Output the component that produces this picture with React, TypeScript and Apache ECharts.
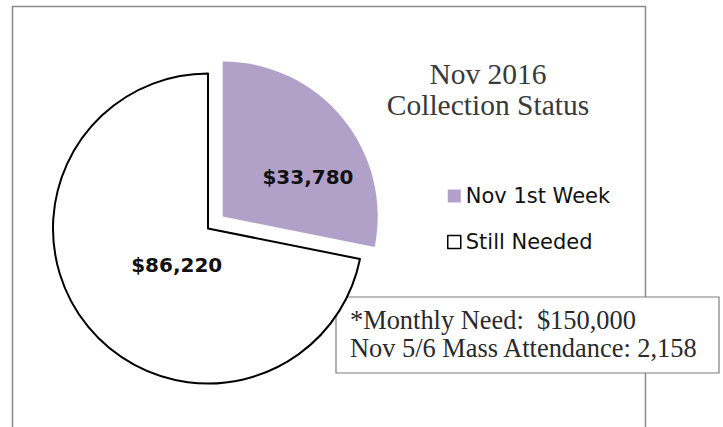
import React, { useEffect, useRef } from "react";
import * as echarts from "echarts";

const categories = ["Nov 1st Week", "Still Needed"];
const values = [33780, 86220];
const sliceColors = ["#b1a1c9", "#ffffff"];
const titleText = "Nov 2016\nCollection Status";
const noteLines = ["*Monthly Need:  $150,000", "Nov 5/6 Mass Attendance: 2,158"];

export default function App() {
  const ref = useRef<HTMLDivElement>(null);
  useEffect(() => {
    if (!ref.current) return;
    const chart = echarts.init(ref.current, undefined, { renderer: "svg" });
    const fmt = (v: number) => "$" + v.toLocaleString("en-US");
    const labelOffsets = [[23, 12], [31, -15]];
    const itemStyles = [
      { color: sliceColors[0], borderWidth: 0 },
      { color: sliceColors[1], borderColor: "#000", borderWidth: 2 },
    ];
    chart.setOption({
      animation: false,
      backgroundColor: "#ffffff",
      title: {
        text: titleText,
        left: 483,
        top: 53,
        textAlign: "center",
        textStyle: {
          fontFamily: "Liberation Serif",
          fontSize: 29.5,
          lineHeight: 31,
          fontWeight: "normal",
          color: "#3a3a3a",
        },
      },
      legend: {
        orient: "vertical",
        left: 442,
        top: 179,
        icon: "rect",
        itemWidth: 13,
        itemHeight: 13,
        itemGap: 22,
        selectedMode: false,
        textStyle: {
          fontFamily: "DejaVu Sans",
          fontSize: 21,
          lineHeight: 24,
          color: "#111",
        },
        data: [
          { name: categories[0], itemStyle: { color: sliceColors[0], borderWidth: 0 } },
          { name: categories[1], itemStyle: { color: "#fff", borderColor: "#000", borderWidth: 1.5 } },
        ],
      },
      graphic: [
        {
          type: "rect",
          z: -10,
          shape: { x: 12.5, y: 6.5, width: 633, height: 600 },
          style: { fill: "none", stroke: "#8a8a8a", lineWidth: 1.5 },
          silent: true,
        },
        {
          type: "group",
          z: 100,
          children: [
            {
              type: "rect",
              shape: { x: 336, y: 297, width: 383, height: 76 },
              style: { fill: "#fff", stroke: "#7f7f7f", lineWidth: 1.2 },
            },
            ...noteLines.map((t, i) => ({
              type: "text",
              x: 350,
              y: 320 + i * 27.5,
              style: {
                text: t,
                fontFamily: "Liberation Serif",
                fontSize: 26.4,
                fill: "#2a2a2a",
                textVerticalAlign: "middle",
              },
            })),
          ],
        },
      ],
      series: [
        {
          type: "pie",
          center: [208, 228.5],
          radius: [0, 155],
          startAngle: 90,
          clockwise: true,
          selectedMode: "single",
          selectedOffset: 19,
          emphasis: { disabled: true },
          label: {
            position: "inside",
            formatter: (p: any) => fmt(p.value),
            fontFamily: "DejaVu Sans",
            fontWeight: "bold",
            fontSize: 20,
            color: "#111",
          },
          labelLine: { show: false },
          data: categories.map((name, i) => ({
            name,
            value: values[i],
            selected: i === 0,
            itemStyle: itemStyles[i],
            label: { offset: labelOffsets[i] },
            select: {
              itemStyle: itemStyles[i],
              label: { offset: labelOffsets[i] },
            },
          })),
        },
      ],
    });
    return () => chart.dispose();
  }, []);
  return (
    <div
      ref={ref}
      style={{ position: "absolute", left: 0, top: 0, width: 723, height: 427 }}
    />
  );
}
